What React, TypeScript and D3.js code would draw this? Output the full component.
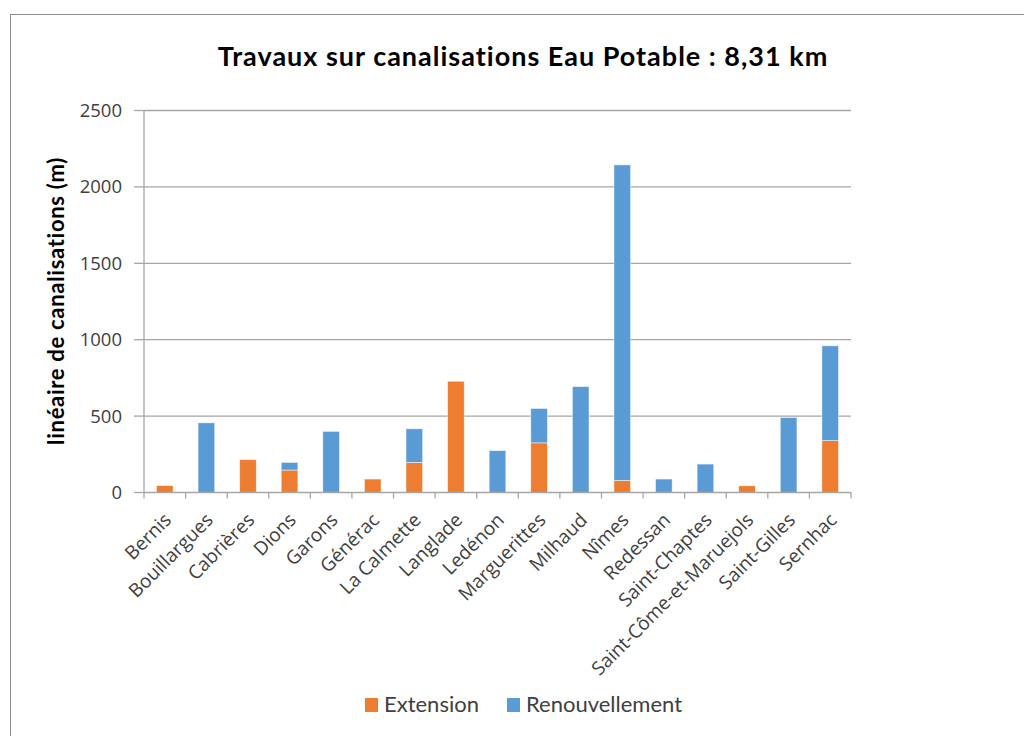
import React from "react";
import * as d3 from "d3";

const categories = [
  "Bernis", "Bouillargues", "Cabrières", "Dions", "Garons", "Générac", "La Calmette",
  "Langlade", "Ledénon", "Marguerittes", "Milhaud", "Nîmes", "Redessan", "Saint-Chaptes",
  "Saint-Côme-et-Maruejols", "Saint-Gilles", "Sernhac",
];
const extension = [45, 0, 215, 147, 0, 88, 197, 728, 0, 325, 0, 79, 0, 0, 44, 0, 340];
const renouvellement = [0, 456, 0, 50, 400, 0, 220, 0, 274, 225, 693, 2065, 88, 186, 0, 491, 620];
const yTicks = [0, 500, 1000, 1500, 2000, 2500];
const seriesNames = ["Extension", "Renouvellement"];
const colors = ["#ED7D31", "#5B9BD5"];

export default function App() {
  const W = 1024, H = 736;
  const left = 144, right = 851, top = 110.5, bottom = 492.5;
  const x = d3.scaleBand<string>().domain(categories).range([left, right]).paddingInner(0.6).paddingOuter(0.3);
  const y = d3.scaleLinear().domain([0, 2500]).range([bottom, top]);
  const rows = categories.map((c, i) => ({ cat: c, Extension: extension[i], Renouvellement: renouvellement[i] }));
  const stacked = d3.stack<any>().keys(seriesNames)(rows);
  const step = (right - left) / categories.length;
  const bounds = d3.range(categories.length + 1).map((i) => left + i * step);
  const tickFont = "'Open Sans', sans-serif";
  const calFont = "Lato, sans-serif";

  return (
    <svg width={W} height={H} style={{ position: "absolute", left: 0, top: 0, background: "#fff" }}>
      <rect x={10.5} y={14.5} width={1100} height={800} fill="#fff" stroke="#8c8c8c" strokeWidth={1} />
      <text x={523} y={66} textAnchor="middle" fontFamily={calFont} fontWeight="bold" fontSize={27} letterSpacing={1} fill="#000">
        Travaux sur canalisations Eau Potable : 8,31 km
      </text>
      {yTicks.filter((t) => t > 0).map((t) => (
        <line key={t} x1={left} x2={right} y1={y(t)} y2={y(t)} stroke="#a6a6a6" strokeWidth={1.3} />
      ))}
      <line x1={left} x2={left} y1={top} y2={bottom} stroke="#a6a6a6" strokeWidth={1.3} />
      {yTicks.map((t) => (
        <g key={t}>
          <line x1={left - 10} x2={left} y1={y(t)} y2={y(t)} stroke="#a6a6a6" strokeWidth={1.3} />
          <text x={122} y={y(t)} dy="0.35em" textAnchor="end" fontFamily={tickFont} fontSize={18.5} fill="#404040">
            {t}
          </text>
        </g>
      ))}
      {stacked.map((s, si) => (
        <g key={s.key} fill={colors[si]}>
          {s.map((d, i) =>
            d[1] - d[0] > 0 ? (
              <rect key={i} x={x(categories[i])} width={x.bandwidth()} y={y(d[1])} height={y(d[0]) - y(d[1])}
                stroke="#ffffff" strokeOpacity={0.6} strokeWidth={0.8} />
            ) : null
          )}
        </g>
      ))}
      <line x1={left} x2={right} y1={bottom} y2={bottom} stroke="#a6a6a6" strokeWidth={1.3} />
      {bounds.map((b, i) => (
        <line key={i} x1={b} x2={b} y1={bottom} y2={bottom + 6} stroke="#a6a6a6" strokeWidth={1.3} />
      ))}
      {categories.map((c) => {
        const cx = (x(c) as number) + x.bandwidth() / 2;
        return (
          <text key={c} transform={`translate(${cx + 3},${bottom + 24}) rotate(-45)`} textAnchor="end" dy="0.35em"
            fontFamily={tickFont} fontSize={19} fill="#404040">
            {c}
          </text>
        );
      })}
      <text transform={`translate(64,301) rotate(-90)`} textAnchor="middle" fontFamily={calFont} fontWeight="bold" fontSize={22} letterSpacing={0.7} fill="#000">
        linéaire de canalisations (m)
      </text>
      {seriesNames.map((n, i) => {
        const lx = [365, 507][i];
        return (
          <g key={n}>
            <rect x={lx} y={698} width={13} height={14} fill={colors[i]} />
            <text x={lx + 19} y={712} fontFamily={calFont} fontSize={22} fill="#404040">{n}</text>
          </g>
        );
      })}
    </svg>
  );
}
